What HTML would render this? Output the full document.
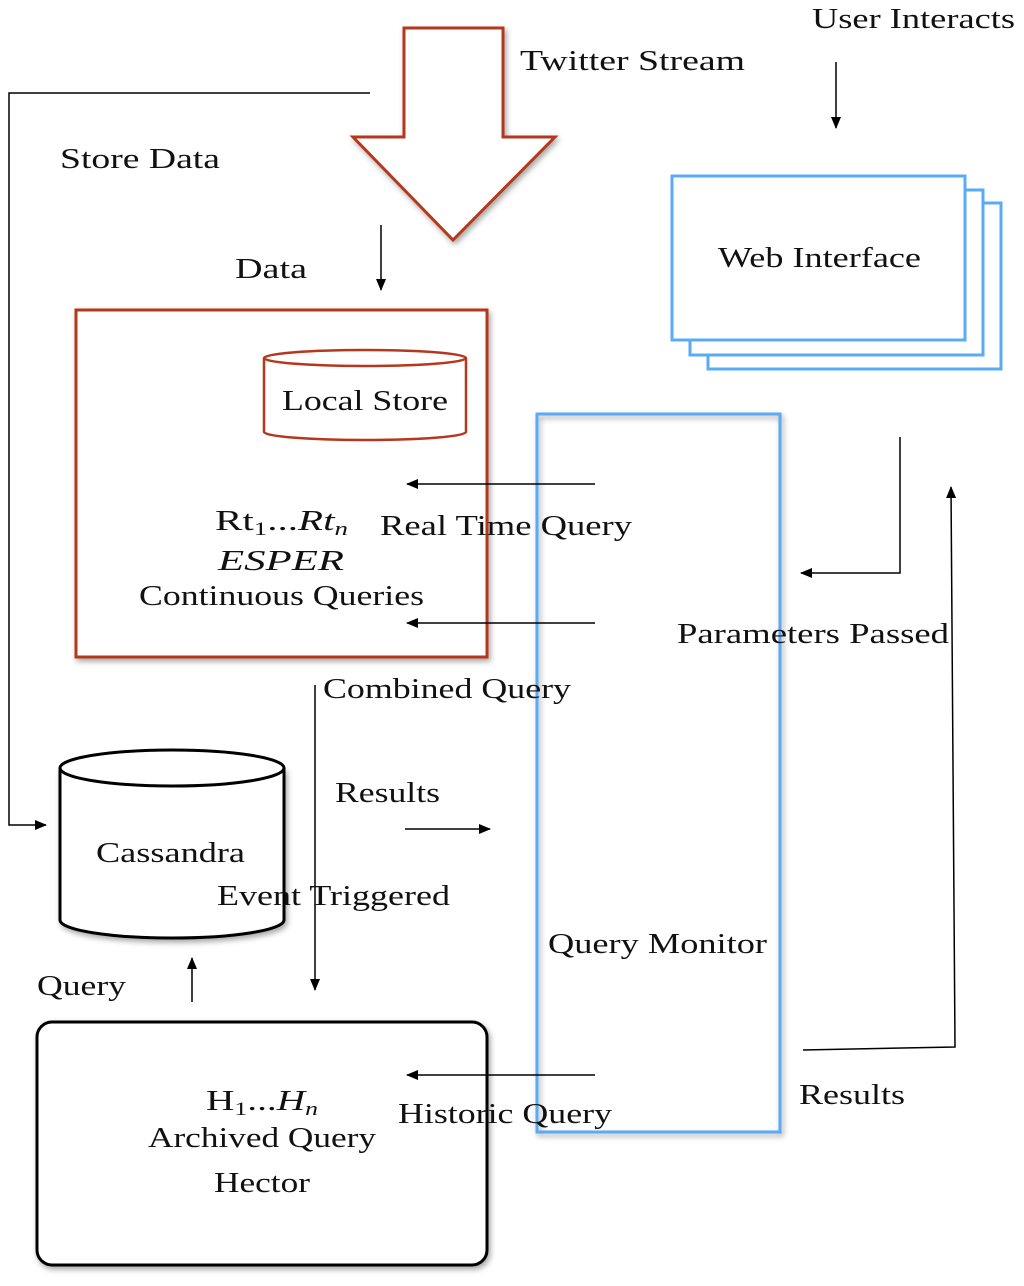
<!DOCTYPE html>
<html><head><meta charset="utf-8"><style>
body{margin:0;background:#fff}
svg text{font-family:"Liberation Serif",serif;font-size:29px;fill:#111}
</style></head><body>
<svg width="1024" height="1281" viewBox="0 0 1024 1281" xmlns="http://www.w3.org/2000/svg">
<defs>
<marker id="a" markerWidth="12" markerHeight="10" refX="11" refY="5" orient="auto" markerUnits="userSpaceOnUse">
<path d="M0,0 L12,5 L0,10 Z" fill="#000"/></marker>
<filter id="s" x="-10%" y="-10%" width="120%" height="120%"><feDropShadow dx="2" dy="3" stdDeviation="3" flood-color="#000" flood-opacity="0.35"/></filter>
</defs>
<polygon points="404,28 503,28 503,137 555,137 453,240 353,137 404,137" fill="#fff" stroke="#b5381c" stroke-width="3" filter="url(#s)"/>
<text x="520" y="70" textLength="225" lengthAdjust="spacingAndGlyphs">Twitter Stream</text>
<text x="812" y="28" textLength="203" lengthAdjust="spacingAndGlyphs">User Interacts</text>
<line x1="836" y1="62" x2="836" y2="128" stroke="#000" stroke-width="1.5" marker-end="url(#a)"/>
<polyline points="370,93 9,93 9,825 46,825" fill="none" stroke="#000" stroke-width="1.5" marker-end="url(#a)"/>
<text x="60" y="168" textLength="160" lengthAdjust="spacingAndGlyphs">Store Data</text>
<text x="235" y="278" textLength="72" lengthAdjust="spacingAndGlyphs">Data</text>
<line x1="381" y1="225" x2="381" y2="290" stroke="#000" stroke-width="1.5" marker-end="url(#a)"/>
<rect x="76" y="310" width="411" height="347" fill="#fff" stroke="#b5381c" stroke-width="3" filter="url(#s)"/>
<path d="M264,358 L264,432 A101,8 0 0 0 466,432 L466,358" fill="#fff" stroke="#b5381c" stroke-width="2.5"/>
<ellipse cx="365" cy="358" rx="101" ry="8" fill="#fff" stroke="#b5381c" stroke-width="2.5"/>
<text x="282" y="410" textLength="166" lengthAdjust="spacingAndGlyphs">Local Store</text>
<text x="215" y="530" textLength="133" lengthAdjust="spacingAndGlyphs">Rt<tspan font-size="19" dy="5">1</tspan><tspan dy="-5">...</tspan><tspan font-style="italic">Rt</tspan><tspan font-size="19" dy="5" font-style="italic">n</tspan></text>
<text x="218" y="570" font-style="italic" textLength="126" lengthAdjust="spacingAndGlyphs">ESPER</text>
<text x="139" y="605" textLength="285" lengthAdjust="spacingAndGlyphs">Continuous Queries</text>
<rect x="708" y="203" width="293" height="166" fill="#fff" stroke="#5aabf5" stroke-width="3"/>
<rect x="690" y="190" width="293" height="165" fill="#fff" stroke="#5aabf5" stroke-width="3"/>
<rect x="672" y="176" width="293" height="164" fill="#fff" stroke="#5aabf5" stroke-width="3"/>
<text x="718" y="267" textLength="203" lengthAdjust="spacingAndGlyphs">Web Interface</text>
<rect x="537" y="414" width="243" height="718" fill="none" stroke="#5aabf5" stroke-width="3" filter="url(#s)"/>
<text x="548" y="953" textLength="219" lengthAdjust="spacingAndGlyphs">Query Monitor</text>
<line x1="595" y1="484" x2="407" y2="484" stroke="#000" stroke-width="1.5" marker-end="url(#a)"/>
<text x="380" y="535" textLength="252" lengthAdjust="spacingAndGlyphs">Real Time Query</text>
<line x1="595" y1="623" x2="407" y2="623" stroke="#000" stroke-width="1.5" marker-end="url(#a)"/>
<polyline points="900,437 900,573 801,573" fill="none" stroke="#000" stroke-width="1.5" marker-end="url(#a)"/>
<text x="677" y="643" textLength="272" lengthAdjust="spacingAndGlyphs">Parameters Passed</text>
<text x="323" y="698" textLength="248" lengthAdjust="spacingAndGlyphs">Combined Query</text>
<line x1="315" y1="685" x2="315" y2="990" stroke="#000" stroke-width="1.5" marker-end="url(#a)"/>
<text x="335" y="802" textLength="105" lengthAdjust="spacingAndGlyphs">Results</text>
<line x1="405" y1="829" x2="490" y2="829" stroke="#000" stroke-width="1.5" marker-end="url(#a)"/>
<path d="M60,768 L60,920 A112,18 0 0 0 284,920 L284,768" fill="#fff" stroke="#000" stroke-width="3" filter="url(#s)"/>
<ellipse cx="172" cy="768" rx="112" ry="18" fill="#fff" stroke="#000" stroke-width="3"/>
<text x="96" y="862" textLength="149" lengthAdjust="spacingAndGlyphs">Cassandra</text>
<text x="217" y="905" textLength="233" lengthAdjust="spacingAndGlyphs">Event Triggered</text>
<text x="37" y="995" textLength="89" lengthAdjust="spacingAndGlyphs">Query</text>
<line x1="192" y1="1002" x2="192" y2="958" stroke="#000" stroke-width="1.5" marker-end="url(#a)"/>
<rect x="37" y="1022" width="450" height="243" rx="15" fill="#fff" stroke="#000" stroke-width="3" filter="url(#s)"/>
<text x="206" y="1110" textLength="112" lengthAdjust="spacingAndGlyphs">H<tspan font-size="19" dy="5">1</tspan><tspan dy="-5">...</tspan><tspan font-style="italic">H</tspan><tspan font-size="19" dy="5" font-style="italic">n</tspan></text>
<text x="148" y="1147" textLength="228" lengthAdjust="spacingAndGlyphs">Archived Query</text>
<text x="214" y="1192" textLength="96" lengthAdjust="spacingAndGlyphs">Hector</text>
<line x1="595" y1="1075" x2="407" y2="1075" stroke="#000" stroke-width="1.5" marker-end="url(#a)"/>
<text x="398" y="1123" textLength="214" lengthAdjust="spacingAndGlyphs">Historic Query</text>
<polyline points="803,1050 955,1047 951,487" fill="none" stroke="#000" stroke-width="1.5" marker-end="url(#a)"/>
<text x="799" y="1104" textLength="106" lengthAdjust="spacingAndGlyphs">Results</text>
</svg>
</body></html>
